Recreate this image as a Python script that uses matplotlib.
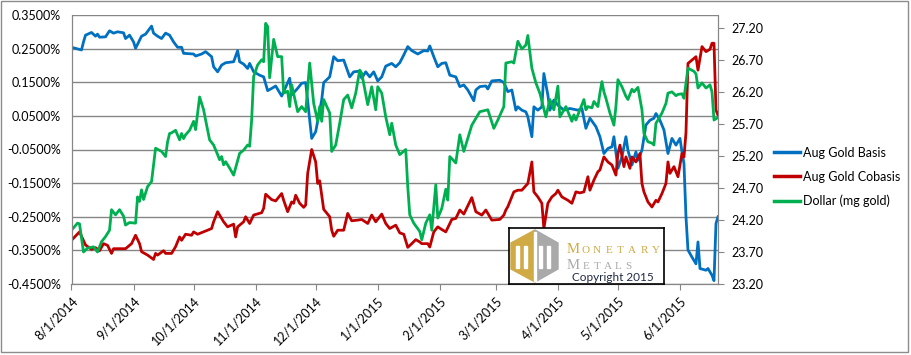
import matplotlib
matplotlib.use("Agg")
import matplotlib.pyplot as plt
import matplotlib.dates as mdates
from matplotlib.patches import Rectangle, Polygon
from matplotlib.lines import Line2D
import numpy as np
import pandas as pd

plt.rcParams['font.family'] = ['Lato', 'DejaVu Sans']

# days since 8/1/2014 and values
start = pd.Timestamp('2014-08-01')

basis_days = [0, 5, 6, 7, 10, 12, 13, 14, 17, 19, 21, 23, 26, 27, 29, 31, 32, 35, 37, 40,
              41, 43, 45, 47, 49, 51, 53, 55, 56, 61, 62, 65, 67, 70, 71, 73, 75, 77, 81, 83,
              84, 86, 88, 89, 91, 94, 96, 98, 101, 102, 105, 106, 109, 110, 113, 115, 117, 120, 122, 125,
              126, 129, 131, 133, 136, 139, 141, 144, 145, 147, 149, 151, 153, 155, 157, 160, 162, 164, 166, 168,
              170, 173, 176, 178, 179, 181, 183, 185, 187, 189, 192, 194, 196, 198, 201, 202, 204, 207, 208, 210,
              214, 216, 218, 220, 222, 223, 225, 227, 228, 230, 231, 233, 235, 236, 238, 239, 241, 243, 246, 249,
              253, 255, 257, 259, 262, 264, 266, 268, 270, 271, 273, 275, 277, 278, 280, 282, 283, 285, 287, 289,
              291, 292, 294, 296, 298, 300, 302, 304, 305, 306, 307, 308, 310, 312, 313, 314, 317, 318, 320, 321,
              322, 323]
basis = [0.254, 0.246, 0.270, 0.290, 0.298, 0.287, 0.293, 0.284, 0.285, 0.303, 0.296, 0.300, 0.297, 0.280, 0.290, 0.270, 0.251, 0.287, 0.293, 0.317,
         0.296, 0.287, 0.280, 0.296, 0.290, 0.270, 0.254, 0.254, 0.236, 0.234, 0.228, 0.234, 0.241, 0.226, 0.196, 0.181, 0.201, 0.208, 0.211, 0.244,
         0.211, 0.204, 0.191, 0.206, 0.181, 0.171, 0.166, 0.125, 0.135, 0.139, 0.109, 0.122, 0.162, 0.112, 0.132, 0.147, 0.149, -0.017, 0.003, 0.097,
         0.149, 0.166, 0.226, 0.214, 0.216, 0.166, 0.181, 0.183, 0.162, 0.181, 0.166, 0.181, 0.154, 0.166, 0.198, 0.206, 0.196, 0.208, 0.231, 0.256,
         0.244, 0.234, 0.244, 0.243, 0.258, 0.226, 0.196, 0.206, 0.208, 0.171, 0.166, 0.137, 0.142, 0.127, 0.095, 0.127, 0.137, 0.139, 0.130, 0.154,
         0.156, 0.149, 0.122, 0.127, 0.067, 0.077, 0.067, 0.062, 0.047, -0.012, 0.077, 0.067, 0.077, 0.176, 0.112, 0.067, 0.097, 0.082, 0.067, 0.072,
         0.067, 0.072, 0.013, 0.043, 0.018, -0.012, -0.062, -0.047, -0.042, -0.012, -0.106, -0.072, -0.012, -0.052, -0.096, -0.057, -0.082, -0.052, 0.023, 0.037,
         0.043, 0.057, 0.037, 0.008, -0.062, -0.017, -0.037, -0.017, -0.057, -0.092, -0.250, -0.349, -0.370, -0.390, -0.325, -0.404, -0.409, -0.404, -0.424, -0.440,
         -0.270, -0.250]

cobasis_days = [0, 4, 7, 10, 12, 14, 16, 18, 20, 21, 27, 30, 32, 34, 35, 38, 41, 42, 43, 46,
                47, 50, 52, 54, 55, 57, 60, 61, 63, 66, 68, 70, 71, 73, 76, 78, 81, 82, 83, 86,
                87, 89, 91, 95, 96, 97, 100, 102, 105, 106, 108, 110, 111, 112, 114, 116, 117, 118, 120, 122,
                123, 124, 126, 129, 130, 131, 133, 136, 138, 140, 143, 145, 148, 150, 152, 155, 157, 159, 162, 164,
                166, 168, 170, 172, 174, 175, 178, 179, 181, 183, 185, 187, 190, 192, 194, 196, 200, 202, 205, 207,
                210, 214, 216, 217, 218, 221, 223, 225, 228, 230, 231, 233, 235, 236, 238, 240, 242, 243, 245, 248,
                250, 252, 254, 256, 258, 259, 261, 263, 264, 266, 268, 270, 272, 273, 274, 276, 277, 279, 280, 282,
                284, 285, 286, 288, 290, 292, 293, 295, 297, 298, 299, 301, 303, 305, 306, 307, 308, 311, 312, 313,
                315, 317, 319, 320, 321, 322, 323]
cobasis = [-0.320, -0.295, -0.334, -0.347, -0.342, -0.351, -0.330, -0.335, -0.359, -0.345, -0.345, -0.330, -0.305, -0.330, -0.354, -0.364, -0.377, -0.359, -0.364, -0.351,
           -0.359, -0.359, -0.339, -0.310, -0.320, -0.302, -0.305, -0.295, -0.302, -0.295, -0.290, -0.285, -0.265, -0.235, -0.265, -0.280, -0.272, -0.310, -0.280, -0.265,
           -0.250, -0.270, -0.245, -0.238, -0.225, -0.183, -0.199, -0.203, -0.181, -0.201, -0.235, -0.206, -0.210, -0.186, -0.210, -0.222, -0.215, -0.121, -0.050, -0.087,
           -0.151, -0.143, -0.228, -0.250, -0.290, -0.308, -0.290, -0.290, -0.240, -0.262, -0.260, -0.258, -0.270, -0.245, -0.265, -0.242, -0.270, -0.285, -0.275, -0.298,
           -0.302, -0.341, -0.330, -0.318, -0.325, -0.330, -0.330, -0.340, -0.295, -0.280, -0.288, -0.295, -0.258, -0.255, -0.230, -0.242, -0.193, -0.235, -0.245, -0.230,
           -0.260, -0.258, -0.245, -0.230, -0.220, -0.176, -0.171, -0.171, -0.151, -0.087, -0.176, -0.191, -0.210, -0.285, -0.210, -0.191, -0.181, -0.171, -0.191, -0.201,
           -0.210, -0.176, -0.179, -0.176, -0.131, -0.171, -0.141, -0.116, -0.111, -0.072, -0.087, -0.096, -0.126, -0.062, -0.037, -0.101, -0.072, -0.106, -0.072, -0.087,
           -0.062, -0.151, -0.176, -0.206, -0.221, -0.201, -0.206, -0.181, -0.151, -0.087, -0.121, -0.101, -0.131, -0.062, -0.072, 0.000, 0.206, 0.221, 0.226, 0.186,
           0.256, 0.241, 0.248, 0.266, 0.266, 0.067, 0.052]

dollar_days = [0, 3, 4, 6, 8, 11, 13, 15, 17, 19, 20, 22, 24, 26, 27, 29, 32, 33, 34, 35,
               36, 38, 40, 42, 45, 47, 48, 49, 50, 52, 54, 55, 56, 57, 59, 61, 62, 64, 66, 67,
               69, 71, 73, 74, 75, 76, 77, 79, 81, 84, 86, 88, 89, 90, 91, 93, 95, 96, 97, 98,
               99, 101, 103, 105, 106, 108, 109, 110, 113, 115, 117, 119, 121, 123, 124, 125, 126, 129, 130, 132,
               134, 136, 138, 140, 142, 144, 145, 148, 150, 152, 153, 155, 157, 159, 160, 162, 164, 167, 168, 169,
               171, 174, 175, 177, 179, 180, 182, 183, 185, 187, 188, 189, 192, 194, 196, 200, 204, 208, 211, 213,
               216, 217, 220, 221, 223, 225, 227, 228, 230, 232, 234, 237, 239, 241, 243, 244, 247, 250, 251, 252,
               254, 256, 257, 258, 260, 261, 263, 264, 265, 266, 267, 269, 271, 272, 273, 275, 277, 278, 280, 281,
               283, 285, 286, 288, 290, 291, 292, 293, 295, 297, 298, 300, 302, 303, 305, 306, 307, 308, 311, 312,
               313, 315, 317, 319, 320, 321, 323]
dollar = [24.04, 24.15, 24.14, 23.70, 23.76, 23.78, 23.70, 23.86, 23.94, 24.04, 24.36, 24.28, 24.36, 24.26, 24.12, 24.16, 24.15, 24.56, 24.49, 24.67,
          24.52, 24.72, 24.80, 25.32, 25.27, 25.19, 25.42, 25.55, 25.56, 25.60, 25.45, 25.55, 25.47, 25.53, 25.60, 25.74, 25.61, 26.12, 25.92, 25.76,
          25.45, 25.37, 25.22, 25.14, 25.19, 25.06, 25.11, 25.01, 24.90, 25.24, 25.29, 25.37, 25.35, 25.76, 26.44, 26.62, 26.70, 26.67, 27.27, 27.22,
          26.42, 27.02, 26.75, 26.75, 26.18, 26.21, 25.97, 26.31, 25.89, 25.97, 25.89, 26.65, 26.02, 25.74, 25.97, 25.74, 26.08, 25.87, 25.27, 25.37,
          25.71, 26.08, 26.15, 25.95, 26.18, 26.54, 26.49, 26.00, 26.28, 25.92, 26.28, 26.18, 25.81, 25.53, 25.71, 25.37, 25.22, 25.30, 24.72, 24.28,
          24.15, 24.02, 23.89, 24.15, 24.28, 24.04, 24.75, 24.23, 24.38, 24.68, 24.51, 25.19, 25.09, 25.53, 25.27, 25.68, 25.89, 25.92, 25.63, 25.76,
          25.97, 26.65, 26.67, 26.65, 26.99, 26.87, 26.93, 27.08, 26.57, 26.34, 26.18, 25.81, 26.08, 25.92, 26.29, 25.81, 25.97, 25.74, 25.84, 25.76,
          25.92, 26.08, 25.92, 25.97, 25.95, 26.05, 25.97, 26.18, 26.36, 26.20, 26.10, 25.87, 25.68, 25.97, 26.39, 26.28, 26.13, 26.08, 26.24, 26.20,
          26.27, 25.92, 25.55, 25.42, 25.40, 25.37, 25.71, 25.76, 25.87, 26.02, 26.18, 26.20, 26.14, 26.16, 26.17, 26.10, 26.34, 26.57, 26.52, 26.48,
          26.26, 26.34, 26.26, 26.31, 26.20, 25.76, 25.80]

left_ticks = [-0.45, -0.35, -0.25, -0.15, -0.05, 0.05, 0.15, 0.25, 0.35]
right_ticks = [23.2, 23.7, 24.2, 24.7, 25.2, 25.7, 26.2, 26.7, 27.2]
month_ticks = pd.date_range('2014-08-01', '2015-06-01', freq='MS')

def to_dates(days):
    return start + pd.to_timedelta(days, unit='D')

W, H = 911, 355
fig = plt.figure(figsize=(W / 100, H / 100), dpi=100)
ax = fig.add_axes([71.5 / W, 1 - 284 / H, (718 - 71.5) / W, (284 - 15) / H])
ax2 = ax.twinx()

grid_c = '#868686'
blue, red, green = '#0070C0', '#C00000', '#00B050'

ax.plot(to_dates(basis_days), basis, color=blue, lw=2.0, solid_joinstyle='round')
ax.plot(to_dates(cobasis_days), cobasis, color=red, lw=2.0, solid_joinstyle='round')
ax2.plot(to_dates(dollar_days), dollar, color=green, lw=2.0, solid_joinstyle='round')

ax.set_xlim(pd.Timestamp('2014-08-01'), pd.Timestamp('2015-06-20'))
ax.set_ylim(-0.45, 0.35)
ax.set_yticks(left_ticks)
ax.yaxis.set_major_formatter(plt.FuncFormatter(lambda v, p: f"{v:.4f}%"))
ax.grid(axis='y', color=grid_c, lw=1)
ax.set_axisbelow(True)
ax.set_xticks(month_ticks)
ax.xaxis.set_major_formatter(mdates.DateFormatter('%-m/%-d/%Y'))
for lbl in ax.get_xticklabels():
    lbl.set_rotation(45)
    lbl.set_ha('right')
    lbl.set_va('top')
    lbl.set_rotation_mode('anchor')

ax2.set_ylim(23.2, 27.4)
ax2.set_yticks(right_ticks)
ax2.yaxis.set_major_formatter(plt.FuncFormatter(lambda v, p: f"{v:.2f}"))

for a in (ax, ax2):
    for s in a.spines.values():
        s.set_color(grid_c)
    a.spines['top'].set_visible(False)
ax.tick_params(axis='y', length=0, pad=7.5, labelsize=9)
ax.tick_params(axis='x', length=4, color=grid_c, pad=4, labelsize=9)
ax2.tick_params(axis='y', length=4, color=grid_c, pad=6, labelsize=9)

handles = [Line2D([], [], color=c, lw=2.5) for c in (blue, red, green)]
fig.legend(handles, ['Aug Gold Basis', 'Aug Gold Cobasis', 'Dollar (mg gold)'],
           loc='center left', bbox_to_anchor=(774 / W, 1 - 177 / H), frameon=False,
           borderaxespad=0, borderpad=0, fontsize=9, handlelength=2.1,
           handletextpad=0.2, labelspacing=0.95)

# logo box
lg = fig.add_axes([509 / W, 1 - 284 / H, 155 / W, 56 / H])
lg.set_xlim(509, 664)
lg.set_ylim(284, 228)
lg.set_xticks([])
lg.set_yticks([])
for s in lg.spines.values():
    s.set_color('black')
    s.set_linewidth(1.2)
gold, gray = '#CFAA45', '#A9A9A9'
lg.add_patch(Polygon([(535, 230), (511, 243), (511, 269), (535, 282)], closed=True, color=gold))
lg.add_patch(Polygon([(535, 230), (558, 243), (558, 269), (535, 282)], closed=True, color=gray))
for x0 in (516, 524, 539, 547):
    lg.add_patch(Rectangle((x0, 246), 3, 22, color='white'))
lg.add_patch(Rectangle((534, 232), 2, 49, color='white'))
for ch, x in zip('MONETARY', [573, 586, 597, 609, 620, 632, 644, 656]):
    lg.text(x, 253, ch, ha='center', va='baseline', color=gold, family='Liberation Serif',
            fontsize=10.5 if ch == 'M' and x == 573 else 8)
for ch, x in zip('METALS', [573, 586, 597, 608, 618, 628]):
    lg.text(x, 269, ch, ha='center', va='baseline', color=gray, family='Liberation Serif',
            fontsize=10.5 if x == 573 else 8)
lg.text(613, 281, 'Copyright 2015', ha='center', va='baseline', color='#1F2A44', fontsize=8.5)

fig.patches.append(Rectangle((1 / W, 1 - 352 / H), 907 / W, 351 / H, transform=fig.transFigure,
                             fill=False, edgecolor='#8c8c8c', lw=1))

fig.savefig('out.png', dpi=100)
